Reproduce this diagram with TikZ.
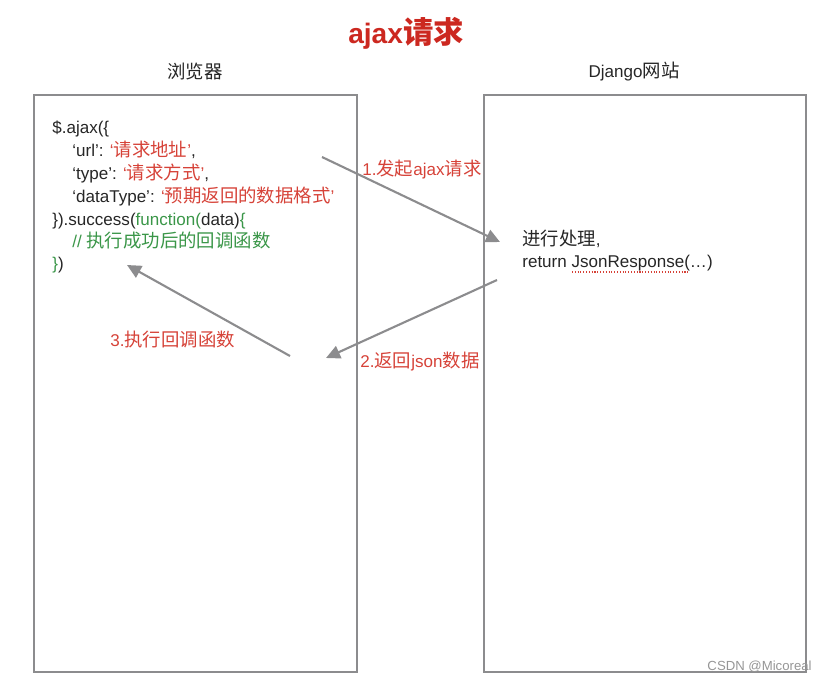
\documentclass[tikz,border=0pt]{standalone}
\usepackage{fontspec}
\setmainfont{Liberation Sans}
\newfontfamily\cjk[Scale=1.08]{Noto Sans CJK SC}
\usetikzlibrary{arrows.meta,positioning}

\definecolor{boxgray}{RGB}{140,140,142}
\definecolor{reqred}{RGB}{214,66,56}
\definecolor{titlered}{RGB}{204,40,32}
\definecolor{cbgreen}{RGB}{58,150,72}
\definecolor{txtdark}{RGB}{38,38,38}
\definecolor{markgray}{RGB}{150,150,150}

\begin{document}
\begin{tikzpicture}[x=0.02cm,y=-0.02cm,
    panel/.style={draw=boxgray,line width=1.2pt},
    flow/.style={draw=boxgray,line width=1.2pt,-{Triangle[length=8pt,width=7.5pt]}},
    code/.style={anchor=base west,inner sep=0pt,text=txtdark,font=\fontsize{9.7}{12}\selectfont},
    msg/.style={anchor=west,inner sep=0pt,text=reqred,font=\fontsize{9.7}{12}\selectfont},
    head/.style={text=txtdark,font=\fontsize{9.7}{12}\selectfont}]
\useasboundingbox (0,0) rectangle (828,683);

\node[font=\fontsize{16}{18}\selectfont\bfseries,text=titlered] (title) at (406,33) {ajax{\cjk\bfseries 请求}};
\node[head] (browser) at (195,72) {\cjk 浏览器};
\node[head] (server) at (634,72) {Django{\cjk 网站}};

% two panels
\draw[panel] (34,95) rectangle (357,672);
\draw[panel] (484,95) rectangle (806,672);

% browser side
\node[code] (l1) at (52,133) {\$.ajax(\{};
\node[code] (l2) at (72,156) {‘url’: \textcolor{reqred}{‘{\cjk 请求地址}’},};
\node[code] (l3) at (72,179) {‘type’: \textcolor{reqred}{‘{\cjk 请求方式}’},};
\node[code] (l4) at (72,202) {‘dataType’: \textcolor{reqred}{‘{\cjk 预期返回的数据格式}’}};
\node[code] (l5) at (52,225) {\}).success(\textcolor{cbgreen}{function(}data)\textcolor{cbgreen}{\{}};
\node[code] (l6) at (72,247) {\textcolor{cbgreen}{// {\cjk 执行成功后的回调函数}}};
\node[code] (l7) at (52,269) {\textcolor{cbgreen}{\}})};

% server side
\node[code] (work) at (522,245) {{\cjk 进行处理}, };
\node[code] (ret) at (522,267) {return JsonResponse(…)};
\draw[reqred,densely dotted,line width=0.6pt] (572,272) -- (690,272);

% messages
\coordinate (req-s) at (322,157);
\coordinate (req-e) at (500,242);
\coordinate (resp-s) at (497,280);
\coordinate (resp-e) at (326,358);
\coordinate (cb-s) at (290,356);
\coordinate (cb-e) at (127,265);
\draw[flow] (req-s) -- (req-e);
\draw[flow] (resp-s) -- (resp-e);
\draw[flow] (cb-s) -- (cb-e);
\node[msg] (req) at (362,169) {1.{\cjk 发起}ajax{\cjk 请求}};
\node[msg] (resp) at (360,362) {2.{\cjk 返回}json{\cjk 数据}};
\node[msg] (cb) at (110,340) {3.{\cjk 执行回调函数}};

\node[anchor=east,inner sep=0pt,text=markgray,font=\fontsize{7.5}{9}\selectfont] (mark) at (812,667) {CSDN @Micoreal};
\end{tikzpicture}
\end{document}
